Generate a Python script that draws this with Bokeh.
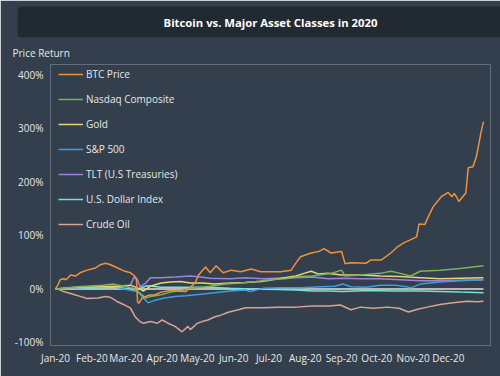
import re
import pandas as pd
from bokeh.plotting import figure
from bokeh.models import (Title, Legend, LegendItem, Range1d, DatetimeTickFormatter, FixedTicker)
from bokeh.embed import file_html
from bokeh.resources import INLINE

# ---------------- data (price return, %) ----------------
btc_dates = ["2020-01-01","2020-01-03","2020-01-05","2020-01-08","2020-01-10","2020-01-14","2020-01-18",
             "2020-01-22","2020-01-28","2020-02-04","2020-02-08","2020-02-13","2020-02-17","2020-02-23",
             "2020-02-28","2020-03-05","2020-03-08","2020-03-10","2020-03-11","2020-03-12","2020-03-15",
             "2020-03-20","2020-03-26","2020-03-31","2020-04-08","2020-04-21","2020-04-29","2020-05-02",
             "2020-05-08","2020-05-12","2020-05-17","2020-05-23","2020-05-30","2020-06-07","2020-06-16",
             "2020-06-24","2020-07-03","2020-07-11","2020-07-20","2020-07-24","2020-07-28","2020-08-06",
             "2020-08-13","2020-08-17","2020-08-23","2020-09-01","2020-09-04","2020-09-09","2020-09-22",
             "2020-09-26","2020-10-05","2020-10-13","2020-10-19","2020-10-24","2020-10-30","2020-11-04",
             "2020-11-06","2020-11-11","2020-11-14","2020-11-18","2020-11-25","2020-12-01","2020-12-04",
             "2020-12-06","2020-12-08","2020-12-10","2020-12-16","2020-12-18","2020-12-22","2020-12-25",
             "2020-12-29","2020-12-31"]
btc_values = [0, 7, 17, 19, 17, 26, 24, 30, 35, 39, 45, 48, 45, 39, 34, 30, 25, 20, -24, -27, -17,
              -12, -11, -6, -3, -5, 11, 26, 41, 30, 43, 30, 35, 32, 37, 32, 32, 32, 35, 48, 60, 67,
              70, 75, 67, 70, 47, 49, 48, 54, 54, 67, 79, 86, 92, 97, 121, 120, 135, 153, 172, 180,
              172, 178, 172, 163, 179, 226, 228, 247, 293, 312]

nasdaq_dates = ["2020-01-01","2020-01-20","2020-02-10","2020-02-19","2020-02-28","2020-03-08","2020-03-13",
                "2020-03-18","2020-03-22","2020-03-31","2020-04-08","2020-04-17","2020-04-25","2020-05-04",
                "2020-05-12","2020-05-25","2020-06-07","2020-06-20","2020-07-02","2020-07-15","2020-07-28",
                "2020-08-07","2020-08-23","2020-09-01","2020-09-04","2020-09-17","2020-10-04","2020-10-13",
                "2020-10-21","2020-10-30","2020-11-07","2020-11-24","2020-12-11","2020-12-31"]
nasdaq_values = [0, 4, 7, 9, 5, 1, -8, -17, -14, -11, -6, -3, 1, 3, 5, 9, 11, 14, 17, 19, 23, 24, 29,
                 35, 24, 26, 29, 33, 29, 24, 33, 35, 38, 43]

gold_dates = ["2020-01-01","2020-01-20","2020-02-10","2020-02-28","2020-03-05","2020-03-12","2020-03-16",
              "2020-03-22","2020-03-31","2020-04-08","2020-04-17","2020-04-25","2020-05-05","2020-05-16",
              "2020-05-29","2020-06-11","2020-06-25","2020-07-09","2020-07-24","2020-07-31","2020-08-06",
              "2020-08-12","2020-08-20","2020-09-01","2020-09-17","2020-10-04","2020-10-21","2020-11-07",
              "2020-11-24","2020-12-11","2020-12-31"]
gold_values = [0, 3, 4, 4, 7, 1, -4, 5, 11, 13, 14, 11, 11, 9, 11, 12, 14, 19, 24, 29, 33, 28, 29, 26,
               26, 24, 23, 21, 19, 20, 21]

sp500_dates = ["2020-01-01","2020-01-20","2020-02-10","2020-02-19","2020-02-28","2020-03-11","2020-03-16",
               "2020-03-20","2020-03-26","2020-04-03","2020-04-12","2020-04-21","2020-05-04","2020-05-12",
               "2020-05-29","2020-06-11","2020-06-15","2020-06-26","2020-07-11","2020-07-28","2020-08-14",
               "2020-08-26","2020-09-02","2020-09-09","2020-09-22","2020-10-04","2020-10-17","2020-10-26",
               "2020-10-30","2020-11-07","2020-11-24","2020-12-11","2020-12-31"]
sp500_values = [0, 3, 4, 5, 0, -5, -17, -26, -21, -17, -14, -13, -10, -8, -4, -2, -5, 1, 2, 2, 4, 5, 9,
                4, 3, 7, 7, 4, 2, 9, 13, 15, 17]

tlt_dates = ["2020-01-01","2020-01-20","2020-02-10","2020-03-05","2020-03-08","2020-03-11","2020-03-13",
             "2020-03-18","2020-03-22","2020-03-31","2020-04-12","2020-04-25","2020-05-04","2020-05-12",
             "2020-05-29","2020-06-11","2020-06-26","2020-07-09","2020-07-24","2020-08-07","2020-08-21",
             "2020-09-02","2020-09-17","2020-10-04","2020-10-21","2020-11-07","2020-11-24","2020-12-11",
             "2020-12-31"]
tlt_values = [0, 2, 4, 7, 22, 17, 4, 11, 21, 21, 22, 24, 22, 20, 19, 21, 19, 20, 21, 22, 19, 20, 19, 19,
              17, 15, 15, 16, 17]

usd_dates = ["2020-01-01","2020-01-20","2020-02-10","2020-02-20","2020-03-09","2020-03-19","2020-03-31",
             "2020-04-20","2020-05-10","2020-05-29","2020-06-15","2020-07-09","2020-07-24","2020-08-07",
             "2020-08-21","2020-09-02","2020-09-25","2020-10-15","2020-11-07","2020-11-24","2020-12-11",
             "2020-12-31"]
usd_values = [0, 1, 2, 3, -2, 6, 3, 3, 3, 1, 0, -1, -2, -4, -4, -5, -3, -4, -4, -5, -6, -7]

oil_dates = ["2020-01-01","2020-01-03","2020-01-08","2020-01-16","2020-01-22","2020-01-28","2020-02-06",
             "2020-02-13","2020-02-17","2020-02-23","2020-02-28","2020-03-05","2020-03-09","2020-03-13",
             "2020-03-16","2020-03-22","2020-03-28","2020-04-01","2020-04-06","2020-04-12","2020-04-18",
             "2020-04-23","2020-04-25","2020-05-01","2020-05-05","2020-05-10","2020-05-16","2020-05-21",
             "2020-05-28","2020-06-05","2020-06-11","2020-06-26","2020-07-09","2020-07-24","2020-08-07",
             "2020-08-21","2020-08-31","2020-09-09","2020-09-17","2020-09-28","2020-10-10","2020-10-20",
             "2020-10-28","2020-11-05","2020-11-13","2020-11-24","2020-12-05","2020-12-17","2020-12-26",
             "2020-12-31"]
oil_values = [0, 0, -5, -10, -14, -18, -17, -14, -16, -24, -29, -36, -52, -61, -64, -61, -64, -58, -64,
              -70, -80, -70, -76, -64, -61, -58, -52, -49, -43, -39, -35, -35, -34, -34, -32, -32, -30,
              -39, -34, -36, -34, -36, -43, -38, -34, -29, -26, -23, -24, -23]

zero_dates = ["2020-01-01", "2020-12-31"]
zero_values = [0, 0]

series_names = ["BTC Price", "Nasdaq Composite", "Gold", "S&P 500", "TLT (U.S Treasuries)",
                "U.S. Dollar Index", "Crude Oil"]
series_colors = ["#f0923c", "#78b45a", "#e8d573", "#3f9be6", "#a081e3", "#76e3d6", "#dba393"]
series_dates = [btc_dates, nasdaq_dates, gold_dates, sp500_dates, tlt_dates, usd_dates, oil_dates]
series_values = [btc_values, nasdaq_values, gold_values, sp500_values, tlt_values, usd_values, oil_values]

x_tick_dates = ["2020-%02d-01" % m for m in range(1, 13)]
y_tick_values = [-100, 0, 100, 200, 300, 400]
y_tick_labels = ["-100%", "0%", "100%", "200%", "300%", "400%"]

# ---------------- styling ----------------
BG = "#333f4c"
TITLE_BG = "#222a31"
TXT = "#e8e8e8"
FONT = "Open Sans"

p = figure(width=500, height=376, x_axis_type="datetime", output_backend="svg",
           toolbar_location=None,
           x_range=Range1d(start=pd.Timestamp("2019-12-27 18:00"), end=pd.Timestamp("2021-01-06")),
           y_range=Range1d(-105.6, 418.7),
           min_border_left=50, min_border_right=10, min_border_bottom=31, min_border_top=64,
           background_fill_color=BG, border_fill_color=BG, outline_line_color=None)
p.outline_line_width = 0
p.grid.visible = False

# axes
x_ticks_ms = [pd.Timestamp(d).value / 1e6 for d in x_tick_dates]
p.xaxis.ticker = FixedTicker(ticks=x_ticks_ms)
fmt = "%b-%y"
p.xaxis.formatter = DatetimeTickFormatter(months=fmt, days=fmt, years=fmt, hours=fmt,
                                          hourmin=fmt, minutes=fmt, minsec=fmt, seconds=fmt,
                                          milliseconds=fmt, microseconds=fmt)
p.yaxis.ticker = FixedTicker(ticks=y_tick_values)
p.yaxis.major_label_overrides = {v: l for v, l in zip(y_tick_values, y_tick_labels)}
for ax in (p.xaxis, p.yaxis):
    ax.axis_line_color = None
    ax.major_tick_line_color = None
    ax.minor_tick_line_color = None
    ax.major_tick_out = 0
    ax.major_tick_in = 0
    ax.minor_tick_out = 0
    ax.major_label_text_color = TXT
    ax.major_label_text_font = FONT
    ax.major_label_text_font_size = "10px"
p.xaxis.major_label_standoff = 5
p.yaxis.major_label_standoff = 7

# zero line
p.line(pd.to_datetime(zero_dates), zero_values, line_color="#b8b8b8", line_width=2)

renderers = {}
for name, color, ds, vs in reversed(list(zip(series_names, series_colors, series_dates, series_values))):
    r = p.line(pd.to_datetime(ds), vs, line_color=color, line_width=1.5)
    renderers[name] = r

legend = Legend(items=[LegendItem(label=n, renderers=[renderers[n]]) for n in series_names],
                location=(8, 111), margin=0, padding=0, spacing=5,
                glyph_width=25, glyph_height=20, label_height=20, label_standoff=3,
                background_fill_alpha=0, border_line_color=None,
                label_text_color=TXT, label_text_font=FONT, label_text_font_size="10px")
p.add_layout(legend)

sub = Title(text="Price Return", align="left", offset=-38, text_font=FONT, text_font_size="10px",
            text_font_style="normal", text_color=TXT, standoff=9)
p.add_layout(sub, "above")
main = Title(text="Bitcoin vs. Major Asset Classes in 2020", align="center", offset=-15,
             text_font=FONT, text_font_size="11.3px", text_font_style="bold", text_color="#ffffff",
             background_fill_color=TITLE_BG, padding=(146, 8), border_radius=4, standoff=4)
p.add_layout(main, "above")

html = file_html(p, INLINE)
html = re.sub(r"<body([^>]*)>", '<body style="background-color:%s;">' % BG, html, count=1)
open("out.html", "w").write(html)
